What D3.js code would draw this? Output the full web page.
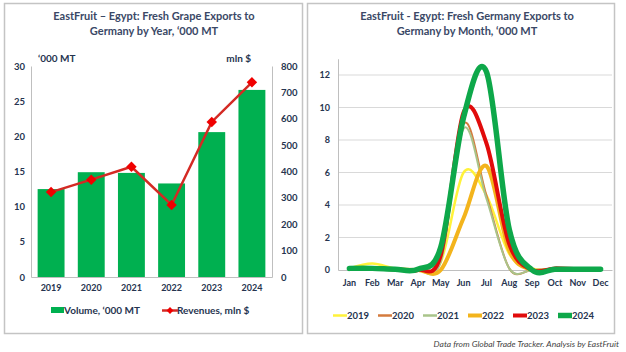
<!DOCTYPE html>
<html>
<head>
<meta charset="utf-8">
<script src="https://cdn.jsdelivr.net/npm/d3@7"></script>
<style>
  body { margin: 0; background: #fff; }
  text { font-family: Lato, "Liberation Sans", sans-serif; }
</style>
</head>
<body>
<svg id="chart" width="626" height="352"></svg>
<script>
// yearly chart data
var years = ['2019', '2020', '2021', '2022', '2023', '2024'];
var volume = [12.5, 14.9, 14.8, 13.3, 20.6, 26.6];
var revenues = [322, 369, 418, 273, 588, 738];
var left_ticks = [0, 5, 10, 15, 20, 25, 30];
var right_ticks = [0, 100, 200, 300, 400, 500, 600, 700, 800];

// monthly chart data
var months = ['Jan', 'Feb', 'Mar', 'Apr', 'May', 'Jun', 'Jul', 'Aug', 'Sep', 'Oct', 'Nov', 'Dec'];
var s2019 = [0.1, 0.4, 0.1, 0.0, 0.5, 6.0, 4.6, 1.0, 0.1, 0.05, 0.05, 0.05];
var s2020 = [0.1, 0.1, 0.05, 0.0, 0.6, 9.0, 4.6, 0.1, 0.0, 0.1, 0.05, 0.05];
var s2021 = [0.1, 0.1, 0.05, 0.0, 0.5, 8.7, 4.4, 0.1, 0.0, 0.05, 0.05, 0.05];
var s2022 = [0.1, 0.1, 0.05, 0.0, 0.0, 3.2, 6.4, 1.2, 0.0, 0.05, 0.05, 0.05];
var s2023 = [0.1, 0.1, 0.05, 0.0, 0.9, 9.7, 7.8, 1.6, 0.0, 0.1, 0.05, 0.05];
var s2024 = [0.1, 0.1, 0.05, 0.05, 1.4, 9.4, 12.2, 2.5, 0.0, 0.05, 0.05, 0.05];
var series_names = ['2019', '2020', '2021', '2022', '2023', '2024'];
var series_values = [s2019, s2020, s2021, s2022, s2023, s2024];
var series_colors = ['#FFF23A', '#D47B3E', '#A9C48A', '#F3B41C', '#E10B0B', '#0EA84A'];
var series_widths = [2.5, 2, 2, 4, 4, 5.5];
var month_ticks = [0, 2, 4, 6, 8, 10, 12];

var text_col = '#26344F';
var grid_col = '#D9D9D9';
var svg = d3.select('#chart');

svg.append('rect').attr('width', 626).attr('height', 352).attr('fill', '#fff');

// panel borders
svg.append('rect').attr('x', 4.5).attr('y', 3.5).attr('width', 298).attr('height', 330)
	.attr('fill', 'none').attr('stroke', '#C4C4C4').attr('stroke-width', 1.5);
svg.append('rect').attr('x', 307.5).attr('y', 3.5).attr('width', 307).attr('height', 330)
	.attr('fill', 'none').attr('stroke', '#C4C4C4').attr('stroke-width', 1.5);

// ---------- left chart ----------
var lx = d3.scaleBand().domain(years).range([31, 272]).paddingInner(0.33).paddingOuter(0.165);
var ly = d3.scaleLinear().domain([0, 30]).range([277, 66]);
var ry = d3.scaleLinear().domain([0, 800]).range([277, 66]);

var left_title = svg.append('text').attr('x', 154).attr('y', 20).attr('text-anchor', 'middle')
	.attr('font-size', 11).attr('font-weight', 'bold').attr('fill', '#3A4866');
left_title.append('tspan').attr('x', 154).text('EastFruit – Egypt: Fresh Grape Exports to');
left_title.append('tspan').attr('x', 154).attr('dy', 15).text('Germany by Year, ‘000 MT');

svg.append('text').attr('x', 38).attr('y', 62).attr('font-size', 10).attr('font-weight', 'bold')
	.attr('fill', text_col).text('‘000 MT');
svg.append('text').attr('x', 251).attr('y', 62).attr('text-anchor', 'end').attr('font-size', 10)
	.attr('font-weight', 'bold').attr('fill', text_col).text('mln $');

svg.selectAll('.bar').data(volume).enter().append('rect').attr('class', 'bar')
	.attr('x', (d, i) => lx(years[i])).attr('width', lx.bandwidth())
	.attr('y', d => ly(d)).attr('height', d => ly(0) - ly(d)).attr('fill', '#00B050');

var la = svg.append('g').attr('transform', 'translate(31,0)')
	.call(d3.axisLeft(ly).tickValues(left_ticks).tickSize(0).tickPadding(6));
var ra = svg.append('g').attr('transform', 'translate(272,0)')
	.call(d3.axisRight(ry).tickValues(right_ticks).tickSize(0).tickPadding(9));
var ba = svg.append('g').attr('transform', 'translate(0,277)')
	.call(d3.axisBottom(lx).tickSize(0).tickPadding(8));
[la, ra, ba].forEach(function(g)  {
	g.select('.domain').attr('stroke', '#BFBFBF');
	g.selectAll('text').attr('font-size', 9.5).attr('font-weight', 'bold').attr('fill', text_col)
		.attr('font-family', 'Lato, sans-serif');
});
ba.selectAll('text').attr('font-size', 9);

var rev_line = d3.line().x((d, i) => lx(years[i]) + lx.bandwidth() / 2).y(d => ry(d));
svg.append('path').datum(revenues).attr('d', rev_line).attr('fill', 'none')
	.attr('stroke', '#D42A24').attr('stroke-width', 2.5);
svg.selectAll('.diamond').data(revenues).enter().append('path').attr('class', 'diamond')
	.attr('d', d3.symbol().type(d3.symbolDiamond2).size(70))
	.attr('transform', (d, i) => 'translate(' + (lx(years[i]) + lx.bandwidth() / 2) + ',' + ry(d) + ')')
	.attr('fill', '#F00000');

// left legend
svg.append('rect').attr('x', 51).attr('y', 307).attr('width', 13).attr('height', 6).attr('fill', '#00B050');
svg.append('text').attr('x', 64).attr('y', 314).attr('font-size', 10).attr('font-weight', 'bold')
	.attr('fill', text_col).text('Volume, ‘000 MT');
svg.append('line').attr('x1', 162).attr('x2', 178).attr('y1', 310.5).attr('y2', 310.5)
	.attr('stroke', '#D42A24').attr('stroke-width', 2.5);
svg.append('path').attr('d', d3.symbol().type(d3.symbolDiamond2).size(30))
	.attr('transform', 'translate(170,310.5)').attr('fill', '#F00000');
svg.append('text').attr('x', 177).attr('y', 314).attr('font-size', 10).attr('font-weight', 'bold')
	.attr('fill', text_col).text('Revenues, mln $');

// ---------- right chart ----------
var mx = d3.scaleBand().domain(months).range([338, 612]);
var my = d3.scaleLinear().domain([0, 13]).range([270, 58.75]);

var right_title = svg.append('text').attr('x', 467).attr('y', 20).attr('text-anchor', 'middle')
	.attr('font-size', 11).attr('font-weight', 'bold').attr('fill', '#3A4866');
right_title.append('tspan').attr('x', 467).text('EastFruit - Egypt: Fresh Germany Exports to');
right_title.append('tspan').attr('x', 467).attr('dy', 15).text('Germany by Month, ‘000 MT');

svg.selectAll('.grid').data(month_ticks.filter(d => d > 0)).enter().append('line').attr('class', 'grid')
	.attr('x1', 338).attr('x2', 612).attr('y1', d => my(d)).attr('y2', d => my(d))
	.attr('stroke', grid_col).attr('stroke-width', 1);

var ma = svg.append('g').attr('transform', 'translate(338,0)')
	.call(d3.axisLeft(my).tickValues(month_ticks).tickSize(0).tickPadding(8));
var mb = svg.append('g').attr('transform', 'translate(0,270)')
	.call(d3.axisBottom(mx).tickSize(0).tickPadding(10));
[ma, mb].forEach(function(g)  {
	g.select('.domain').attr('stroke', '#BFBFBF');
	g.selectAll('text').attr('font-size', 9).attr('font-weight', 'bold').attr('fill', text_col)
		.attr('font-family', 'Lato, sans-serif');
});

// excel-like smoothing: uniform catmull-rom
var month_line = d3.line().x((d, i) => mx(months[i]) + mx.bandwidth() / 2).y(d => my(d))
	.curve(d3.curveCatmullRom.alpha(0));
series_values.forEach(function(vals, k)  {
	svg.append('path').datum(vals).attr('d', month_line).attr('fill', 'none')
		.attr('stroke', series_colors[k]).attr('stroke-width', series_widths[k])
		.attr('stroke-linejoin', 'round').attr('stroke-linecap', 'round');
});

// right legend
series_names.forEach(function(name, k)  {
	var x0 = 333 + k * 45;
	svg.append('line').attr('x1', x0).attr('x2', x0 + 14).attr('y1', 315.5).attr('y2', 315.5)
		.attr('stroke', series_colors[k]).attr('stroke-width', Math.max(series_widths[k], 2.5));
	svg.append('text').attr('x', x0 + 14).attr('y', 319).attr('font-size', 9.5).attr('font-weight', 'bold')
		.attr('fill', text_col).text(name);
});

// caption
svg.append('text').attr('x', 619).attr('y', 347).attr('text-anchor', 'end').attr('font-size', 8.5)
	.attr('font-style', 'italic').attr('fill', '#444').text('Data from Global Trade Tracker. Analysis by  EastFruit');
</script>
</body>
</html>
